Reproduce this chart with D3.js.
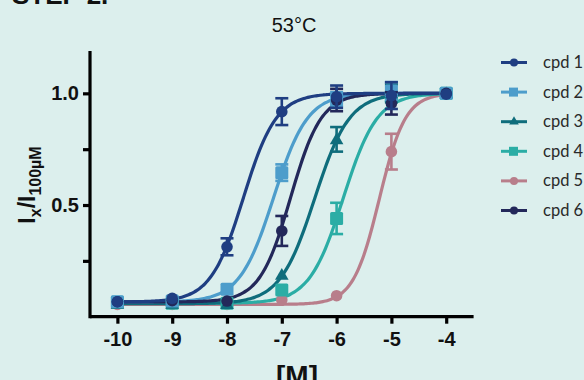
<!DOCTYPE html>
<html><head><meta charset="utf-8">
<script src="https://cdn.jsdelivr.net/npm/d3@7"></script>
<style>html,body{margin:0;padding:0;background:#dcefed;}svg{display:block;}</style>
</head><body><svg id="c" width="584" height="380"></svg>
<script>
const logConc = [-10, -9, -8, -7, -6, -5, -4];
const seriesNames = ["cpd 1", "cpd 2", "cpd 3", "cpd 4", "cpd 5", "cpd 6"];
const cpd1 = [0.067, 0.082, 0.313, 0.918, 0.985, 0.99, 0.996];
const cpd2 = [0.067, 0.070, 0.123, 0.645, 0.975, 1.01, 1.0];
const cpd3 = [0.058, 0.058, 0.057, 0.187, 0.794, 1.0, 1.0];
const cpd4 = [0.065, 0.060, 0.060, 0.120, 0.440, 0.985, 1.0];
const cpd5 = [0.055, 0.055, 0.055, 0.075, 0.094, 0.739, 1.0];
const cpd6 = [0.067, 0.072, 0.070, 0.384, 0.970, 0.955, 1.0];
const err1 = [0, 0, 0.038, 0.06, 0.05, 0.06, 0];
const err2 = [0, 0, 0, 0.037, 0.03, 0.04, 0];
const err3 = [0, 0, 0, 0, 0.055, 0.04, 0];
const err4 = [0, 0, 0, 0, 0.07, 0.02, 0];
const err5 = [0, 0, 0, 0, 0, 0.08, 0];
const err6 = [0, 0, 0, 0.067, 0.05, 0.05, 0];
// fitted sigmoid parameters
const fitLogEC50 = [-7.70, -7.15, -6.40, -5.88, -5.22, -6.84];
const fitHill = [1.45, 1.40, 1.37, 1.40, 1.83, 1.55];
const fitBottom = [0.066, 0.066, 0.058, 0.060, 0.055, 0.066];
const fitTop = [1.0, 1.0, 1.0, 1.0, 1.0, 1.0];
const xTicks = [-10, -9, -8, -7, -6, -5, -4];
const yTicks = [1.0, 0.5];
const yMinorTicks = [0.25, 0.75];

const values = [cpd1, cpd2, cpd3, cpd4, cpd5, cpd6];
const errs = [err1, err2, err3, err4, err5, err6];
const colors = ["#1f3e82", "#4d9dcb", "#0f6d7c", "#2bada5", "#b87e8b", "#23285a"];
const shapes = ["circle", "square", "triangle", "square", "circle", "circle"];

const svg = d3.select("#c");
const x = d3.scaleLinear().domain([-10.5, -3.5]).range([90, 473.6]);
const y = d3.scaleLinear().domain([0, 1.19]).range([316.7, 50.9]);
const FONT = "Liberation Sans, Arial, sans-serif";

// cut-off heading
svg.append("text").attr("x", 12).attr("y", 4).attr("font-family", FONT).attr("font-weight", "bold").attr("font-size", 26).attr("fill", "#111").text("STEP 2.");

svg.append("text").attr("x", 294).attr("y", 32).attr("text-anchor", "middle").attr("font-family", FONT).attr("font-size", 20).attr("fill", "#111").text("53°C");

// axes
const gx = svg.append("g").attr("transform", "translate(0,316.7)")
  .call(d3.axisBottom(x).tickValues(xTicks).tickSize(7).tickPadding(8).tickFormat(d => String(d)));
const gy = svg.append("g").attr("transform", "translate(90,0)")
  .call(d3.axisLeft(y).tickValues(yTicks).tickSize(7).tickPadding(4).tickFormat(d3.format(".1f")));
svg.append("g").attr("transform", "translate(90,0)")
  .call(d3.axisLeft(y).tickValues(yMinorTicks).tickSize(7).tickFormat(""))
  .select(".domain").remove();
svg.selectAll(".domain").attr("stroke", "#000").attr("stroke-width", 3.2);
svg.selectAll(".tick line").attr("stroke", "#000").attr("stroke-width", 3.2);
svg.selectAll(".tick text").attr("font-family", FONT).attr("font-weight", "bold").attr("font-size", 20).attr("fill", "#111");
gx.select(".domain").attr("d", `M${x.range()[0]},0H${x.range()[1]}`);
gy.select(".domain").attr("d", `M0,${y.range()[0] + 1.6}V${y.range()[1]}`);

// axis titles
svg.append("text").attr("x", 297).attr("y", 385).attr("text-anchor", "middle").attr("font-family", FONT).attr("font-weight", "bold").attr("font-size", 28).attr("fill", "#111").text("[M]");
const yl = svg.append("text").attr("transform", "translate(35,185) rotate(-90)").attr("text-anchor", "middle")
  .attr("font-family", FONT).attr("font-weight", "bold").attr("font-size", 23).attr("fill", "#111");
yl.append("tspan").text("I");
yl.append("tspan").attr("font-size", 16).attr("dy", 6).text("x");
yl.append("tspan").attr("dy", -6).text("/I");
yl.append("tspan").attr("font-size", 16).attr("dy", 6).text("100µM");

// curves
const fit = (i, lx) => fitBottom[i] + (fitTop[i] - fitBottom[i]) / (1 + Math.pow(10, fitHill[i] * (fitLogEC50[i] - lx)));
const order = [4, 3, 2, 1, 5, 0];
const line = d3.line().x(d => x(d[0])).y(d => y(d[1])).curve(d3.curveBasis);
const grid = d3.range(logConc[0], logConc[logConc.length - 1] + 0.0001, 0.05);

function marker(g, shape, cx, cy, col) {
  if (shape === "circle") g.append("circle").attr("cx", cx).attr("cy", cy).attr("r", 5.8).attr("fill", col);
  else if (shape === "square") g.append("rect").attr("x", cx - 6.5).attr("y", cy - 6.5).attr("width", 13).attr("height", 13).attr("rx", 1.5).attr("fill", col);
  else g.append("path").attr("d", d3.symbol(d3.symbolTriangle, 80)()).attr("transform", `translate(${cx},${cy + 1})`).attr("fill", col);
}

order.forEach(i => {
  svg.append("path").datum(grid.map(lx => [lx, fit(i, lx)])).attr("d", line)
    .attr("fill", "none").attr("stroke", colors[i]).attr("stroke-width", 3.2);
});
order.forEach(i => {
  const g = svg.append("g");
  logConc.forEach((lx, k) => {
    const v = values[i][k], e = errs[i][k];
    const cx = x(lx);
    if (e > 0) {
      g.append("line").attr("x1", cx).attr("x2", cx).attr("y1", y(v - e)).attr("y2", y(v + e)).attr("stroke", colors[i]).attr("stroke-width", 2.6);
      [v - e, v + e].forEach(t => g.append("line").attr("x1", cx - 6.5).attr("x2", cx + 6.5).attr("y1", y(t)).attr("y2", y(t)).attr("stroke", colors[i]).attr("stroke-width", 2.6));
    }
    marker(g, shapes[i], cx, y(v), colors[i]);
  });
});

// legend
const lg = svg.append("g");
seriesNames.forEach((n, i) => {
  const ly = 62.5 + i * 29.6;
  lg.append("line").attr("x1", 501).attr("x2", 527).attr("y1", ly).attr("y2", ly).attr("stroke", colors[i]).attr("stroke-width", 3);
  if (shapes[i] === "circle") lg.append("circle").attr("cx", 514).attr("cy", ly).attr("r", 4).attr("fill", colors[i]);
  else if (shapes[i] === "square") lg.append("rect").attr("x", 509).attr("y", ly - 4.5).attr("width", 9).attr("height", 9).attr("fill", colors[i]);
  else lg.append("path").attr("d", d3.symbol(d3.symbolTriangle, 40)()).attr("transform", `translate(514,${ly})`).attr("fill", colors[i]);
  lg.append("text").attr("x", 543).attr("y", ly + 5.5).attr("font-family", "Lato, sans-serif").attr("font-weight", 400).attr("font-size", 16.5).attr("fill", "#2a2a2a").text(n);
});
</script></body></html>
